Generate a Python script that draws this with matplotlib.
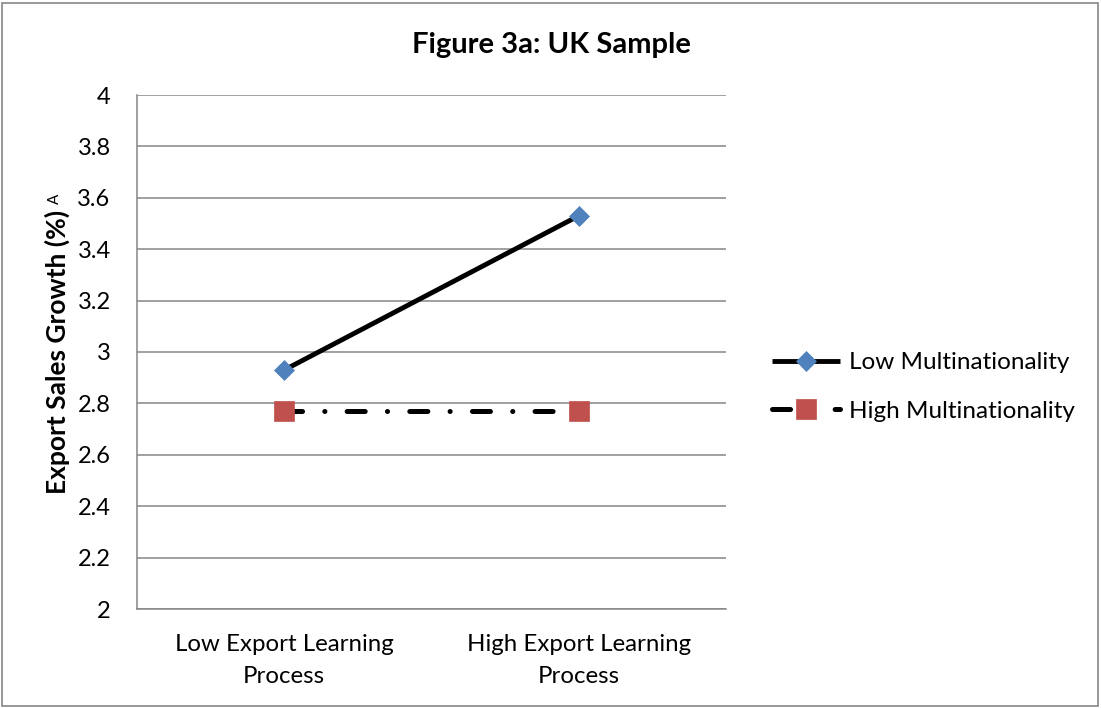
import matplotlib.pyplot as plt
from matplotlib.patches import Rectangle

plt.rcParams['font.family'] = ['Lato', 'DejaVu Sans']
plt.rcParams['lines.scale_dashes'] = False

categories = ['Low Export Learning\nProcess', 'High Export Learning\nProcess']
low_multi = [2.93, 3.53]
high_multi = [2.77, 2.77]
series_names = ['Low Multinationality', 'High Multinationality']

fig = plt.figure(figsize=(11.01, 7.08), dpi=100)
ax = fig.add_axes([137 / 1101, 1 - 609 / 708, 589 / 1101, 514 / 708])

x = range(len(categories))
ax.plot(x, low_multi, color='black', lw=3.5, solid_capstyle='butt',
        marker='D', markersize=10.5, markerfacecolor='#4F81BD',
        markeredgecolor='#4F81BD', markeredgewidth=0.5,
        label=series_names[0], zorder=3)
ax.plot(x, high_multi, color='black', lw=3.6, dash_capstyle='round',
        dashes=(13.0, 16.0, 0.1, 16.0),
        marker='s', markersize=14, markerfacecolor='#C0504D',
        markeredgecolor='#C0504D', markeredgewidth=0.5,
        label=series_names[1], zorder=3)

ax.set_xlim(-0.5, 1.5)
ax.set_ylim(2, 4)
ax.set_yticks([2 + 0.2 * i for i in range(11)])
ax.set_yticklabels(['2', '2.2', '2.4', '2.6', '2.8', '3', '3.2', '3.4', '3.6', '3.8', '4'])
ax.set_xticks(list(x))
ax.set_xticklabels(categories, linespacing=1.65)
ax.tick_params(axis='y', length=0, pad=19, labelsize=17)
ax.tick_params(axis='x', length=0, pad=18, labelsize=17.3)
ax.grid(axis='y', color='#868686', lw=1.1)
ax.set_axisbelow(True)
for s in ['top', 'right']:
    ax.spines[s].set_visible(False)
for s in ['left', 'bottom']:
    ax.spines[s].set_color('#868686')
    ax.spines[s].set_linewidth(1.1)

# y label: bold text plus a small regular superscript "A"
ylab = fig.text(57 / 1101, 1 - 494 / 708, 'Export Sales Growth (%)', rotation=90,
                ha='center', va='bottom', fontsize=19, fontweight='bold')
fig.canvas.draw()
bb = ylab.get_window_extent(fig.canvas.get_renderer())
fig.text((bb.x0 + 4) / 1101, (bb.y1 + 6) / 708, 'A', rotation=90,
         ha='left', va='bottom', fontsize=11)

fig.text(551 / 1101, 1 - 45 / 708, 'Figure 3a: UK Sample', ha='center',
         va='center', fontsize=21, fontweight='bold')

ax.legend(loc='center left', bbox_to_anchor=(760 / 1101, 1 - 387 / 708),
          bbox_transform=fig.transFigure, frameon=False, fontsize=17.5,
          handlelength=2.8, handletextpad=0.35, labelspacing=1.15, borderpad=0)

fig.patches.append(Rectangle((2 / 1101, 2 / 708), 1096 / 1101, 703 / 708,
                             transform=fig.transFigure, fill=False,
                             edgecolor='#868686', lw=1.2))

fig.savefig('out.png', dpi=100)
